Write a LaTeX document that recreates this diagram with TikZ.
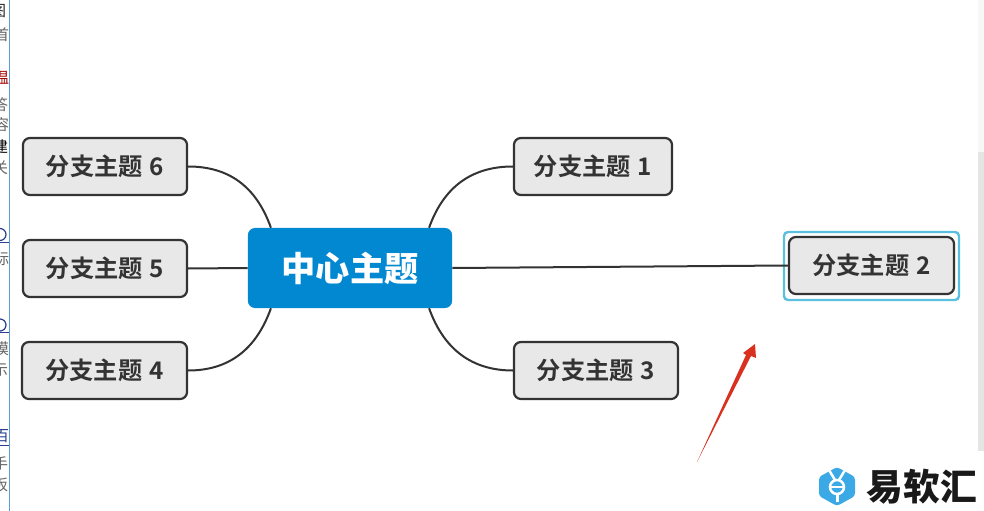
\documentclass[tikz,border=0pt]{standalone}
\usepackage{fontspec}
\setmainfont{Noto Sans CJK SC}[BoldFont={Noto Sans CJK SC Bold}]
\newfontfamily\blackcjk{Noto Sans CJK SC Black}
\newfontfamily\thincjk{Noto Sans CJK SC}
\usepackage{tikz}
\usetikzlibrary{arrows}
\definecolor{inkgray}{HTML}{333333}
\definecolor{boxgray}{HTML}{E8E8E8}
\definecolor{rootblue}{HTML}{0288D1}
\definecolor{selblue}{HTML}{5BC0E0}
\definecolor{logoblue}{HTML}{3AA9E6}
\definecolor{barblue}{HTML}{5B9BD5}
\definecolor{linkblue}{HTML}{2A3F8F}
\definecolor{arrowred}{HTML}{D9301F}

\begin{document}
\begin{tikzpicture}[x=0.01in,y=-0.01in,
    branch/.style={draw=inkgray,fill=boxgray,line width=0.022in,rounded corners=0.07in,
        inner sep=0pt,text=inkgray,font=\fontsize{17.5}{17.5}\selectfont\bfseries},
    root/.style={fill=rootblue,rounded corners=0.07in,inner sep=0pt,
        text=white,font=\fontsize{24.7}{24.7}\selectfont\blackcjk},
    link/.style={draw=inkgray,line width=0.02in},
    strip/.style={font=\fontsize{11}{11}\selectfont\thincjk,text=black!60,anchor=east}]
\useasboundingbox (0,0) rectangle (984,511);
\fill[white] (0,0) rectangle (984,511);

% page behind the map
\begin{scope}
    \clip (0,0) rectangle (9,511);
    \node[strip,text=black!85] (s1) at (11,11) {图};
    \node[strip] (s2) at (14,35) {首};
    \node[strip,text=red!65!black] (s3) at (14,78) {温};
    \node[strip] (s4) at (13,105) {答};
    \node[strip] (s5) at (14,125) {容};
    \node[strip,text=black] (s6) at (13,147) {建};
    \node[strip] (s7) at (13,168) {关};
    \node[strip] (s8) at (14,259) {标};
    \node[strip] (s9) at (14,349) {摸};
    \node[strip] (s10) at (13,370) {示};
    \node[strip,text=linkblue] (s11) at (14,436) {百};
    \node[strip] (s12) at (13,464) {手};
    \node[strip] (s13) at (13,485) {板};
    \draw[linkblue,line width=0.012in] (0,234.5) circle (6);
    \draw[linkblue,line width=0.012in] (0,325) circle (6);
    \draw[linkblue,line width=0.01in] (0,242) -- (9,242);
    \draw[linkblue,line width=0.01in] (0,332) -- (9,332);
    \draw[linkblue,line width=0.01in] (0,445) -- (9,445);
\end{scope}
\draw[barblue,line width=0.014in] (9.5,0) -- (9.5,511);

% scrollbar
\fill[black!10] (978,152) rectangle (984,451);
\fill[black!3] (978,0) rectangle (984,152);

\node[root,minimum width=2.04in,minimum height=0.80in] (center) at (350,268) {中心主题};

\node[branch,minimum width=1.64in,minimum height=0.57in] (branch6) at (105,166.5) {分支主题\kern1pt\ 6};
\node[branch,minimum width=1.64in,minimum height=0.57in] (branch5) at (105,268.5) {分支主题\kern1pt\ 5};
\node[branch,minimum width=1.65in,minimum height=0.57in] (branch4) at (104.5,370.5) {分支主题\kern1pt\ 4};
\node[branch,minimum width=1.58in,minimum height=0.57in] (branch1) at (593,166.5) {分支主题\kern1pt\ 1};
\node[branch,minimum width=1.64in,minimum height=0.57in] (branch3) at (596,370.5) {分支主题\kern1pt\ 3};
\node[branch,minimum width=1.65in,minimum height=0.57in] (branch2) at (871.5,265.5) {分支主题\kern1pt\ 2};
\draw[selblue,line width=0.024in,rounded corners=0.04in]
    (784,232) rectangle (959,300);

\draw[link] (center.27) .. controls +(15,-42) and +(-40,0) .. (branch1.west);
\draw[link] (center.333) .. controls +(15,42) and +(-40,0) .. (branch3.west);
\draw[link] (center.153) .. controls +(-15,-42) and +(40,0) .. (branch6.east);
\draw[link] (center.207) .. controls +(-15,42) and +(40,0) .. (branch4.east);
\draw[link] (center.west) -- (branch5.east);
\draw[link] (center.east) -- (branch2.west);

% red pointer
\fill[arrowred] (697,462) -- (746,355) -- (743,353) -- (755,344) -- (756,358) -- (751,356) -- cycle;

% logo
\fill[logoblue,rounded corners=0.03in] (837,467) -- (855,477) -- (855,496) -- (837,506) -- (819,496) -- (819,477) -- cycle;
\draw[white,line width=0.025in] (837,487) circle (7);
\draw[white,line width=0.02in] (830,487) -- (844,487);
\draw[white,line width=0.025in] (829,470) -- (835,480);
\draw[white,line width=0.025in] (845,470) -- (839,480);
\draw[white,line width=0.03in] (837,494) -- (837,502);
\node[text=black!90,font=\fontsize{26.5}{26.5}\selectfont\blackcjk,inner sep=0pt] (brand) at (922,487) {易软汇};
\end{tikzpicture}
\end{document}
